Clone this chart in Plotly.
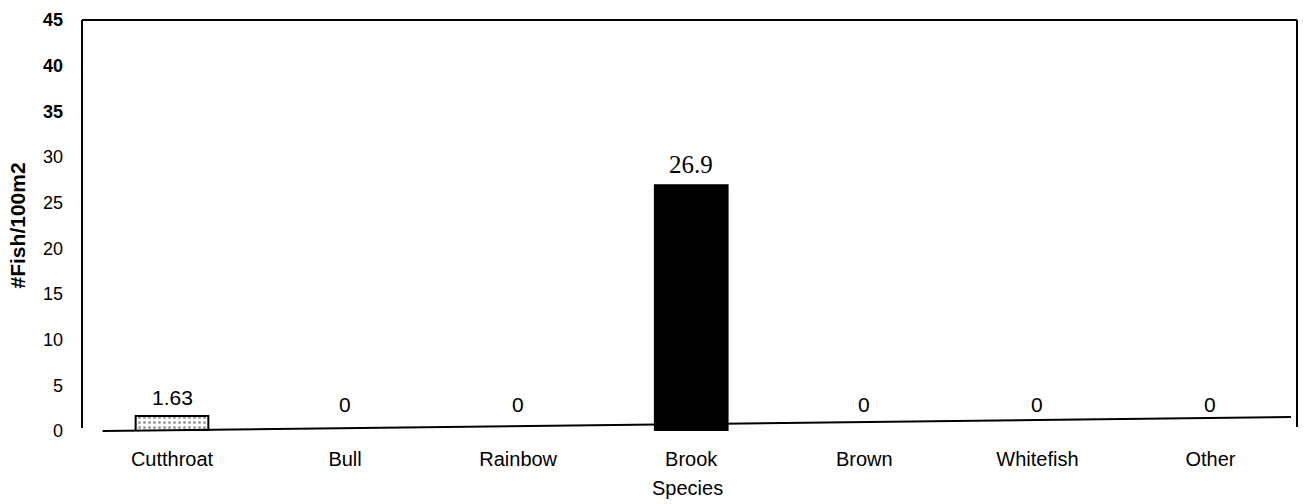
import plotly.graph_objects as go

species = ["Cutthroat", "Bull", "Rainbow", "Brook", "Brown", "Whitefish", "Other"]
density = [1.63, 0, 0, 26.9, 0, 0, 0]
value_labels = ["1.63", "0", "0", "26.9", "0", "0", "0"]
ytick_vals = [0, 5, 10, 15, 20, 25, 30, 35, 40, 45]
ytick_text = ["0", "5", "10", "15", "20", "25", "30", "<b>35</b>", "<b>40</b>", "<b>45</b>"]

fill = ["white" if s == "Cutthroat" else "black" for s in species]
pat = ["." if s == "Cutthroat" else "" for s in species]
outline = [2 if v > 0 else 0 for v in density]

fig = go.Figure()
fig.add_trace(go.Bar(
    x=species, y=density, width=0.42,
    marker=dict(color=fill, line=dict(color="black", width=outline),
                pattern=dict(shape=pat, fgcolor="black", size=5, solidity=0.3)),
    showlegend=False,
))

for s, v, t in zip(species, density, value_labels):
    serif = (s == "Brook")
    fig.add_annotation(
        x=s, y=v, text=t, showarrow=False, yanchor="bottom",
        yshift=5 if v > 0 else 13,
        font=dict(family="Liberation Serif" if serif else "Liberation Sans",
                  size=25 if serif else 21, color="black"),
    )

# frame: left, top, right lines and slightly slanted baseline
line = dict(color="black", width=2)
fig.add_shape(type="line", xref="paper", yref="paper", x0=0, x1=0, y0=0.007, y1=1, line=line)
fig.add_shape(type="line", xref="paper", yref="paper", x0=0, x1=1, y0=1, y1=1, line=line)
fig.add_shape(type="line", xref="paper", yref="paper", x0=1, x1=1, y0=0.01, y1=1, line=line)
fig.add_shape(type="line", xref="paper", yref="paper", x0=0.017, x1=0.995, y0=0.0, y1=0.034, line=line)

fig.add_annotation(text="<b>#Fish/100m2</b>", xref="paper", yref="paper",
                   x=-0.0527, y=0.5, textangle=-90, showarrow=False,
                   xanchor="center", yanchor="middle",
                   font=dict(family="Liberation Sans", size=21, color="black"))
fig.add_annotation(text="Species", xref="paper", yref="paper",
                   x=0.4985, y=-0.139, showarrow=False, yanchor="middle",
                   font=dict(family="Liberation Sans", size=20, color="black"))

fig.update_layout(
    width=1305, height=504,
    margin=dict(l=82, r=8, t=20, b=73),
    paper_bgcolor="white", plot_bgcolor="white",
    font=dict(family="Liberation Sans", color="black", size=16),
    xaxis=dict(range=[-0.52, 6.5], showline=False, showgrid=False, zeroline=False,
               ticks="", tickfont=dict(size=20), ticklabelstandoff=14),
    yaxis=dict(range=[0, 45], tickvals=ytick_vals, ticktext=ytick_text,
               showline=False, showgrid=False, zeroline=False, ticks="",
               tickfont=dict(size=18), ticklabelstandoff=18),
)

fig.write_html("out.html")
